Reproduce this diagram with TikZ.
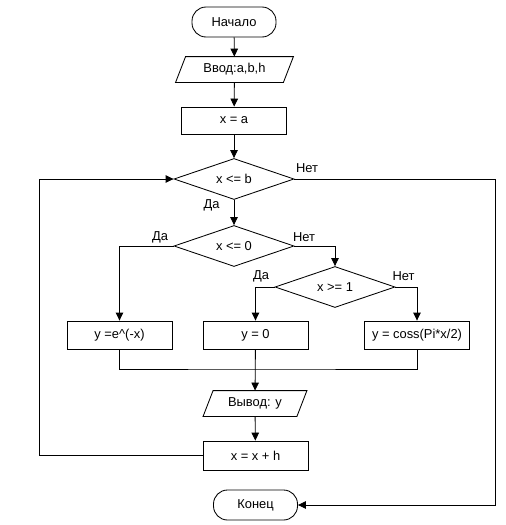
\documentclass[tikz,border=0pt]{standalone}
\usepackage{fontspec}
\setmainfont{Liberation Sans}
\usetikzlibrary{shapes.geometric,arrows.meta}
\begin{document}
\begin{tikzpicture}[x=1pt,y=-1pt,
  font=\fontsize{12.9}{15}\selectfont,
  line width=0.85pt,
  arr/.style={-{Triangle[length=8pt,width=7.5pt]}},
  box/.style={draw, rectangle, minimum width=105pt, minimum height=28pt, inner sep=0pt},
  term/.style={draw, rectangle, rounded corners=14pt, minimum width=84pt, minimum height=30pt, inner sep=0pt},
  dec/.style={draw, diamond, aspect=3, minimum width=120pt, minimum height=41pt, inner sep=0pt},
  io/.style={rectangle, minimum height=25pt, inner sep=0pt},
  lbl/.style={inner sep=0pt}]
\useasboundingbox (0,0) rectangle (506,525);
\fill[white] (0,0) rectangle (506,525);

\node[term] (start) at (234,22) {Начало};
\node[io, minimum width=117pt] (in) at (234.5,69.5) {Ввод:a,b,h};
\draw (in.south west) -- ([xshift=10pt]in.north west) -- (in.north east) -- ([xshift=-10pt]in.south east) -- cycle;
\node[box, minimum height=27pt] (xa) at (234,120.5) {x = a};
\node[dec] (c1) at (234,179) {x <= b};
\node[dec] (c2) at (234,246) {x <= 0};
\node[dec] (c3) at (335,287) {x >= 1};
\node[box] (y1) at (119.5,335) {y =e\textasciicircum(-x)};
\node[box] (y2) at (255.5,335) {y = 0};
\node[box] (y3) at (417,335) {y = coss(Pi*x/2)};
\node[io, minimum width=103pt] (out) at (255,403.5) {Вывод: y};
\draw (out.south west) -- ([xshift=10pt]out.north west) -- (out.north east) -- ([xshift=-10pt]out.south east) -- cycle;
\node[box, minimum height=29pt] (inc) at (255.5,455.5) {x = x + h};
\node[term] (end) at (255.5,505) {Конец};

\coordinate (rr) at (495,179);
\coordinate (ll) at (39,0);
\coordinate (m) at (255.5,369);

\draw[arr] (start) -- (in);
\draw[arr] (in) -- (xa);
\draw[arr] (xa) -- (c1);
\draw[arr] (c1) -- (c2);
\draw[arr] (c1.east) -- (rr) |- (end.east);
\draw[arr] (c2.west) -| (y1.north);
\draw[arr] (c2.east) -| (c3.north);
\draw[arr] (c3.west) -| (y2.north);
\draw[arr] (c3.east) -| (y3.north);
\draw (y1.south) |- (m) -| (y3.south);
\draw[arr] (y2) -- (out);
\draw[arr] (out) -- (inc);
\draw[arr] (inc.west) -- (inc.west -| ll) |- (c1.west);

\node[lbl] (l1) at (307,168) {Нет};
\node[lbl] (l2) at (211.5,205) {Да};
\node[lbl] (l3) at (160,237) {Да};
\node[lbl] (l4) at (304,237) {Нет};
\node[lbl] (l5) at (261,276.5) {Да};
\node[lbl] (l6) at (403.5,276) {Нет};
\end{tikzpicture}
\end{document}
